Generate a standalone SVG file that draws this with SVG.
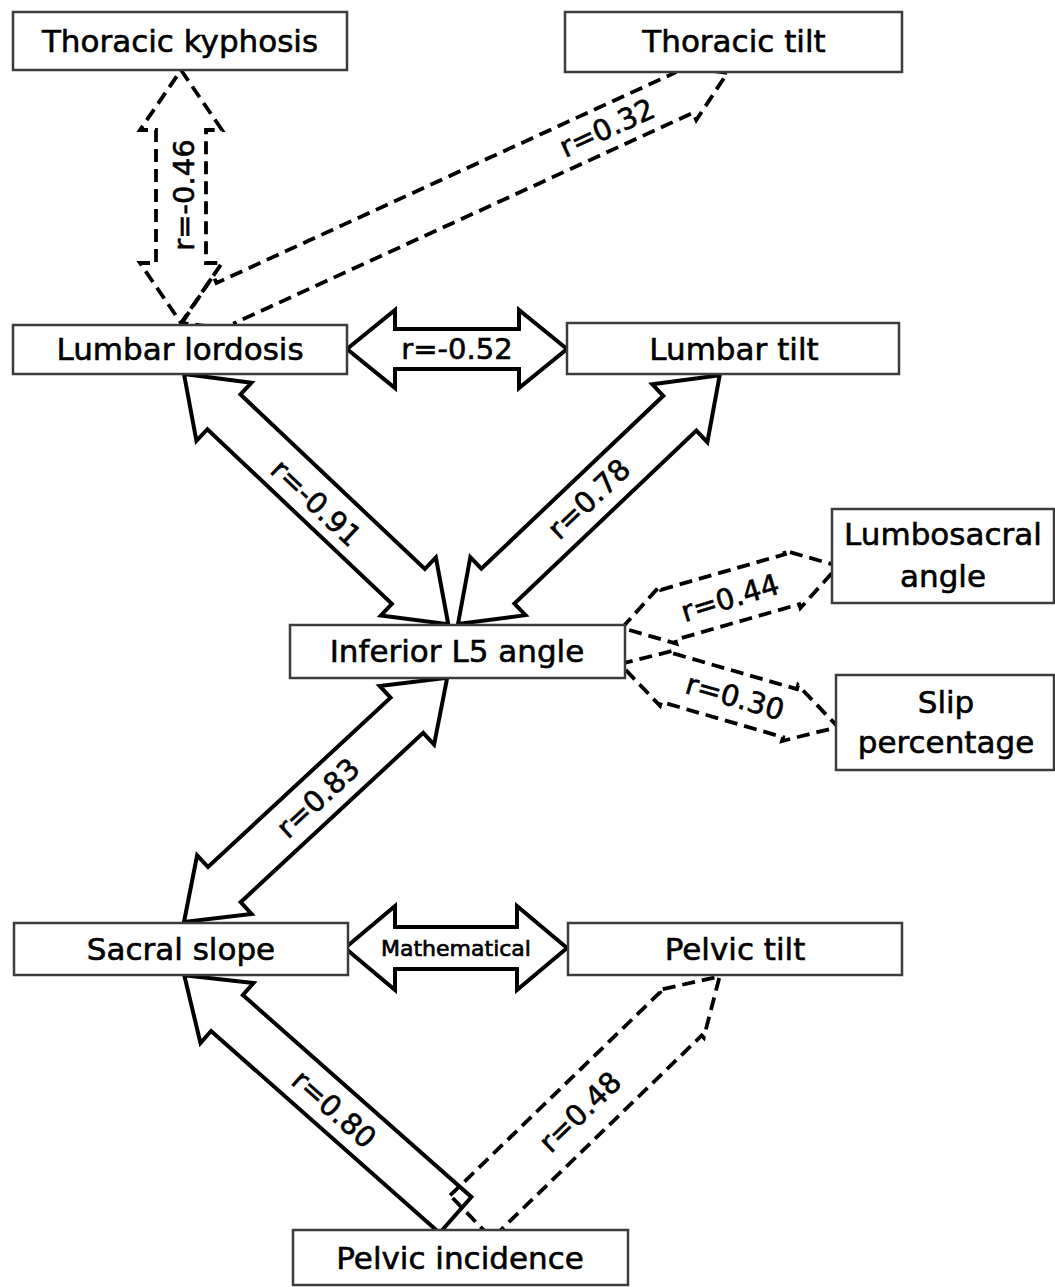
<svg xmlns="http://www.w3.org/2000/svg" width="1055" height="1287" viewBox="0 0 1055 1287">
  <style>
    .node rect { fill: #fff; stroke: #3c3c3c; stroke-width: 2.5; }
    .node text { font-family: "DejaVu Sans", Verdana, sans-serif; font-size: 31px; fill: #000; stroke: #000; stroke-width: 0.6; text-anchor: middle; dominant-baseline: central; }
    .solid { fill: #fff; stroke: #000; stroke-width: 4; stroke-linejoin: miter; }
    .dashed { fill: none; stroke: #000; stroke-width: 3.8; stroke-dasharray: 13 7; stroke-linejoin: miter; }
    .lbl { font-family: "DejaVu Sans", Verdana, sans-serif; font-size: 29px; fill: #000; stroke: #000; stroke-width: 0.6; text-anchor: middle; dominant-baseline: central; }
    .lbl.small { font-size: 22px; stroke-width: 0.7; }
  </style>

  <rect width="1055" height="1287" fill="#fff"/>

  <!-- Connectors: block arrows drawn along local +x, then placed with translate/rotate -->
  <g id="connectors">
    <!-- Thoracic kyphosis <-> Lumbar lordosis -->
    <g id="c_tk_ll">
      <path class="dashed" transform="translate(181,70) rotate(90)" d="M0,0 L60,-41 L60,-25 L193,-25 L193,-41 L253,0 L193,41 L193,25 L60,25 L60,41 Z"/>
      <text class="lbl" transform="translate(184,195) rotate(-90)">r=-0.46</text>
    </g>
    <!-- Lumbar lordosis <-> Thoracic tilt -->
    <g id="c_ll_tt">
      <path class="dashed" transform="translate(182,323) rotate(-24.64)" d="M0,0 L48,-30 L48,-22 L552,-22 L552,-30 L600,0 L552,30 L552,22 L48,22 L48,30 Z"/>
      <text class="lbl" transform="translate(607,128) rotate(-24.6)">r=0.32</text>
    </g>
    <!-- Lumbar lordosis <-> Lumbar tilt -->
    <g id="c_ll_lt">
      <path class="solid" transform="translate(347,349)" d="M0,0 L48,-39 L48,-20 L172,-20 L172,-39 L220,0 L172,39 L172,20 L48,20 L48,39 Z"/>
      <text class="lbl" x="457" y="349">r=-0.52</text>
    </g>
    <!-- Lumbar lordosis <-> Inferior L5 angle -->
    <g id="c_ll_l5">
      <path class="solid" transform="translate(184,374) rotate(43.44)" d="M0,0 L55,-40 L55,-24 L309,-24 L309,-40 L364,0 L309,40 L309,24 L55,24 L55,40 Z"/>
      <text class="lbl" transform="translate(316,503) rotate(43.4)">r=-0.91</text>
    </g>
    <!-- Inferior L5 angle <-> Lumbar tilt -->
    <g id="c_l5_lt">
      <path class="solid" transform="translate(458,624) rotate(-43.54)" d="M0,0 L55,-40 L55,-24 L306,-24 L306,-40 L361,0 L306,40 L306,24 L55,24 L55,40 Z"/>
      <text class="lbl" transform="translate(589,499) rotate(-43.5)">r=0.78</text>
    </g>
    <!-- Inferior L5 angle <-> Lumbosacral angle -->
    <g id="c_l5_lsa">
      <path class="dashed" transform="translate(622,628) rotate(-16)" d="M0,0 L48,-30 L48,-26 L177,-26 L177,-30 L225,0 L177,30 L177,26 L48,26 L48,30 Z"/>
      <text class="lbl" transform="translate(730,598) rotate(-17)">r=0.44</text>
    </g>
    <!-- Inferior L5 angle <-> Slip percentage -->
    <g id="c_l5_slip">
      <path class="dashed" transform="translate(620,664) rotate(16.12)" d="M0,0 L50,-29 L50,-25 L177,-25 L177,-29 L227,0 L177,29 L177,25 L50,25 L50,29 Z"/>
      <text class="lbl" transform="translate(735,697) rotate(16)">r=0.30</text>
    </g>
    <!-- Sacral slope <-> Inferior L5 angle -->
    <g id="c_ss_l5">
      <path class="solid" transform="translate(184,922) rotate(-42.85)" d="M0,0 L55,-40 L55,-24 L304,-24 L304,-40 L359,0 L304,40 L304,24 L55,24 L55,40 Z"/>
      <text class="lbl" transform="translate(318,798) rotate(-42.9)">r=0.83</text>
    </g>
    <!-- Sacral slope <-> Pelvic tilt -->
    <g id="c_ss_pt">
      <path class="solid" transform="translate(345,948)" d="M0,0 L50,-42 L50,-21 L172,-21 L172,-42 L222,0 L172,42 L172,21 L50,21 L50,42 Z"/>
      <text class="lbl small" x="456" y="948">Mathematical</text>
    </g>
    <!-- Pelvic incidence -> Sacral slope -->
    <g id="c_pi_ss">
      <path class="solid" transform="translate(455.5,1215) rotate(-138.53)" d="M0,-24 L305,-24 L305,-40 L362,0 L305,40 L305,24 L0,24 Z"/>
      <text class="lbl" transform="translate(334,1109) rotate(41.5)">r=0.80</text>
    </g>
    <!-- Pelvic incidence -> Pelvic tilt -->
    <g id="c_pi_pt">
      <path class="dashed" transform="translate(471,1217) rotate(-44.06)" d="M0,-30 L292,-30 L292,-33 L346,0 L292,33 L292,30 L0,30 Z"/>
      <text class="lbl" transform="translate(580,1112) rotate(-44)">r=0.48</text>
    </g>
  </g>

  <!-- Nodes -->
  <g id="n_thoracic_kyphosis" class="node">
    <rect x="13" y="12" width="334" height="58"/>
    <text x="180" y="41">Thoracic kyphosis</text>
  </g>
  <g id="n_thoracic_tilt" class="node">
    <rect x="565" y="12" width="337" height="60"/>
    <text x="734" y="41">Thoracic tilt</text>
  </g>
  <g id="n_lumbar_lordosis" class="node">
    <rect x="13" y="325" width="334" height="49"/>
    <text x="180" y="349">Lumbar lordosis</text>
  </g>
  <g id="n_lumbar_tilt" class="node">
    <rect x="567" y="323" width="332" height="51"/>
    <text x="734" y="349">Lumbar tilt</text>
  </g>
  <g id="n_inferior_l5_angle" class="node">
    <rect x="290" y="625" width="335" height="53"/>
    <text x="457" y="651">Inferior L5 angle</text>
  </g>
  <g id="n_lumbosacral_angle" class="node">
    <rect x="832" y="509" width="222" height="94"/>
    <text x="943" y="534">Lumbosacral</text>
    <text x="943" y="576">angle</text>
  </g>
  <g id="n_slip_percentage" class="node">
    <rect x="836" y="675" width="218" height="95"/>
    <text x="946" y="702">Slip</text>
    <text x="946" y="742">percentage</text>
  </g>
  <g id="n_sacral_slope" class="node">
    <rect x="14" y="923" width="334" height="52"/>
    <text x="181" y="949">Sacral slope</text>
  </g>
  <g id="n_pelvic_tilt" class="node">
    <rect x="568" y="923" width="334" height="52"/>
    <text x="735" y="949">Pelvic tilt</text>
  </g>
  <g id="n_pelvic_incidence" class="node">
    <rect x="293" y="1230" width="335" height="55"/>
    <text x="460" y="1258">Pelvic incidence</text>
  </g>
</svg>
